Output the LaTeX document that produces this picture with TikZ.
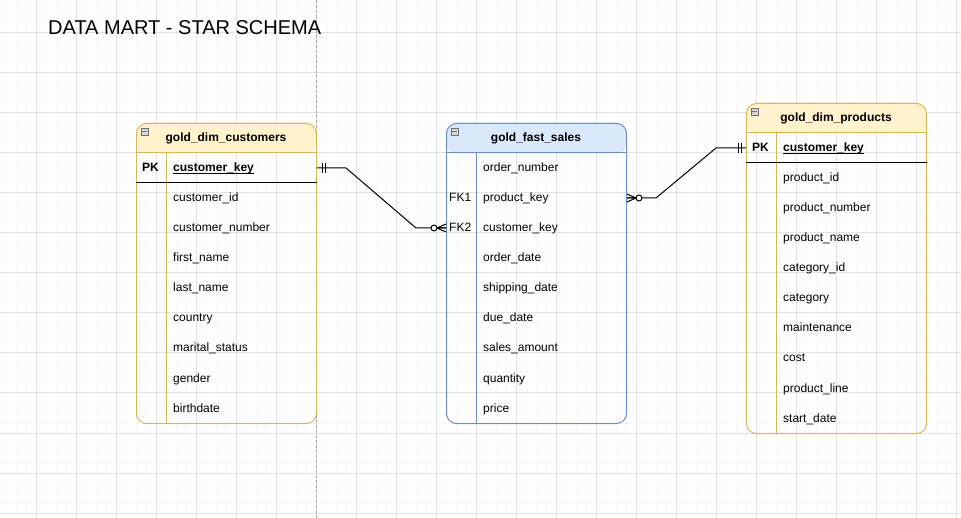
\documentclass[tikz,border=0pt]{standalone}
\usepackage{fontspec}
\setmainfont{Liberation Sans}
\definecolor{gridminor}{HTML}{F6F6F6}
\definecolor{gridmajor}{HTML}{E2E2E2}
\definecolor{pageline}{HTML}{A6A6A6}
\definecolor{yfill}{HTML}{FFF2CC}
\definecolor{ystroke}{HTML}{D6B656}
\definecolor{bfill}{HTML}{DAE8FC}
\definecolor{bstroke}{HTML}{6C8EBF}
\definecolor{iconfill}{HTML}{D9D9D9}
\definecolor{icondraw}{HTML}{707070}
\tikzset{
  tablebox/.style 2 args={draw=#2, line width=1pt, rounded corners=10pt,
    minimum width=180pt, minimum height=300pt, inner sep=0pt, anchor=north west,
    path picture={\fill[#1] (path picture bounding box.north west) rectangle
      ([yshift=-30pt]path picture bounding box.north east);}},
  rowtext/.style={inner sep=0pt, text height=8pt, text depth=0pt, anchor=west,
    font=\fontsize{12}{14}\selectfont},
  keytext/.style={rowtext, font=\fontsize{12}{14}\selectfont\bfseries},
  headtext/.style={inner sep=0pt, text height=8pt, text depth=0pt, anchor=center,
    font=\fontsize{12}{14}\selectfont\bfseries},
  collapse/.style={draw=icondraw, fill=iconfill, line width=0.6pt, inner sep=0pt,
    minimum size=7.5pt},
  conn/.style={line width=1pt, black},
  one mark/.pic={\draw[conn] (-5,-5) -- (-5,5) (-8,-5) -- (-8,5);},
  zero many/.pic={\draw[conn] (-9,0) -- (0,-4) (-9,0) -- (0,0) (-9,0) -- (0,4);
    \draw[conn, fill=white] (-12,0) circle (3);}
}
\begin{document}
\begin{tikzpicture}[x=1pt, y=-1pt]
\useasboundingbox (0,0) rectangle (961,518);

% background grid
\foreach \gx in {6,16,...,956} \draw[gridminor, line width=1pt] (\gx,0) -- (\gx,518);
\foreach \gy in {3,13,...,513} \draw[gridminor, line width=1pt] (0,\gy) -- (961,\gy);
\foreach \gx in {36,76,...,956} \draw[gridmajor, line width=1pt] (\gx,0) -- (\gx,518);
\foreach \gy in {33,73,...,513} \draw[gridmajor, line width=1pt] (0,\gy) -- (961,\gy);

% page break
\draw[pageline, line width=1pt, dash pattern=on 3pt off 2pt] (316,0) -- (316,518);

% title
\node[inner sep=0pt, anchor=base west, font=\fontsize{20}{24}\selectfont] (title) at (48,35) {DATA MART - STAR SCHEMA};

% ---------- gold_dim_customers ----------
\node[tablebox={yfill}{ystroke}] (cust) at (136,123) {};
\draw[ystroke, line width=1pt] ([yshift=-30pt]cust.north west) -- ([yshift=-30pt]cust.north east);
\draw[ystroke, line width=1pt] ([xshift=30pt,yshift=-30pt]cust.north west) -- ([xshift=30pt]cust.south west);
\draw[black, line width=1pt] ([yshift=-60pt]cust.north west) -- ([yshift=-60pt]cust.north east);
\node[collapse] (icon1) at (144.75,131.75) {};
\draw[icondraw, line width=0.8pt] ([xshift=1.6pt]icon1.west) -- ([xshift=-1.6pt]icon1.east);
\node[headtext] (custtitle) at (226,138) {gold\_dim\_customers};
\node[keytext] (custpk) at (142,168) {PK};
\node[keytext] (ckey) at (173,168) {customer\_key};
\draw[black, line width=0.8pt] ([yshift=-1.6pt]ckey.south west) -- ([yshift=-1.6pt]ckey.south east);
\foreach \t/\y [count=\i] in {customer\_id/198, customer\_number/228, first\_name/258,
  last\_name/288, country/318, marital\_status/348, gender/378, birthdate/408}
  \node[rowtext] (c\i) at (173,\y) {\t};

% ---------- gold_fast_sales ----------
\node[tablebox={bfill}{bstroke}] (sales) at (446,123) {};
\draw[bstroke, line width=1pt] ([yshift=-30pt]sales.north west) -- ([yshift=-30pt]sales.north east);
\draw[bstroke, line width=1pt] ([xshift=30pt,yshift=-30pt]sales.north west) -- ([xshift=30pt]sales.south west);
\node[collapse] (icon2) at (454.75,131.75) {};
\draw[icondraw, line width=0.8pt] ([xshift=1.6pt]icon2.west) -- ([xshift=-1.6pt]icon2.east);
\node[headtext] (salestitle) at (536,138) {gold\_fast\_sales};
\node[rowtext] (fk1) at (449,198) {FK1};
\node[rowtext] (fk2) at (449,228) {FK2};
\node[rowtext] (son) at (483,168) {order\_number};
\node[rowtext] (spk) at (483,198) {product\_key};
\node[rowtext] (sck) at (483,228) {customer\_key};
\foreach \t/\y [count=\i] in {order\_date/258, shipping\_date/288, due\_date/318,
  sales\_amount/348, quantity/378, price/408}
  \node[rowtext] (s\i) at (483,\y) {\t};

% ---------- gold_dim_products ----------
\node[tablebox={yfill}{ystroke}, minimum height=330pt] (prod) at (746,103) {};
\draw[ystroke, line width=1pt] ([yshift=-30pt]prod.north west) -- ([yshift=-30pt]prod.north east);
\draw[ystroke, line width=1pt] ([xshift=30pt,yshift=-30pt]prod.north west) -- ([xshift=30pt]prod.south west);
\draw[black, line width=1pt] ([yshift=-60pt]prod.north west) -- ([yshift=-60pt]prod.north east);
\node[collapse] (icon3) at (754.75,111.75) {};
\draw[icondraw, line width=0.8pt] ([xshift=1.6pt]icon3.west) -- ([xshift=-1.6pt]icon3.east);
\node[headtext] (prodtitle) at (836,118) {gold\_dim\_products};
\node[keytext] (prodpk) at (752,148) {PK};
\node[keytext] (pkey) at (783,148) {customer\_key};
\draw[black, line width=0.8pt] ([yshift=-1.6pt]pkey.south west) -- ([yshift=-1.6pt]pkey.south east);
\foreach \t/\y [count=\i] in {product\_id/178, product\_number/208, product\_name/238,
  category\_id/268, category/298, maintenance/328, cost/358, product\_line/388, start\_date/418}
  \node[rowtext] (p\i) at (783,\y) {\t};

% ---------- relationships ----------
\draw[conn] (cust.east |- ckey) -- ++(29,0) -- ++(70,60) -- (sales.west |- sck);
\pic[rotate=180] at (cust.east |- ckey) {one mark};
\pic at (sales.west |- sck) {zero many};

\draw[conn] (sales.east |- spk) -- ++(29,0) -- ++(60,-50) -- (prod.west |- pkey);
\pic[rotate=180] at (sales.east |- spk) {zero many};
\pic at (prod.west |- pkey) {one mark};
\end{tikzpicture}
\end{document}
